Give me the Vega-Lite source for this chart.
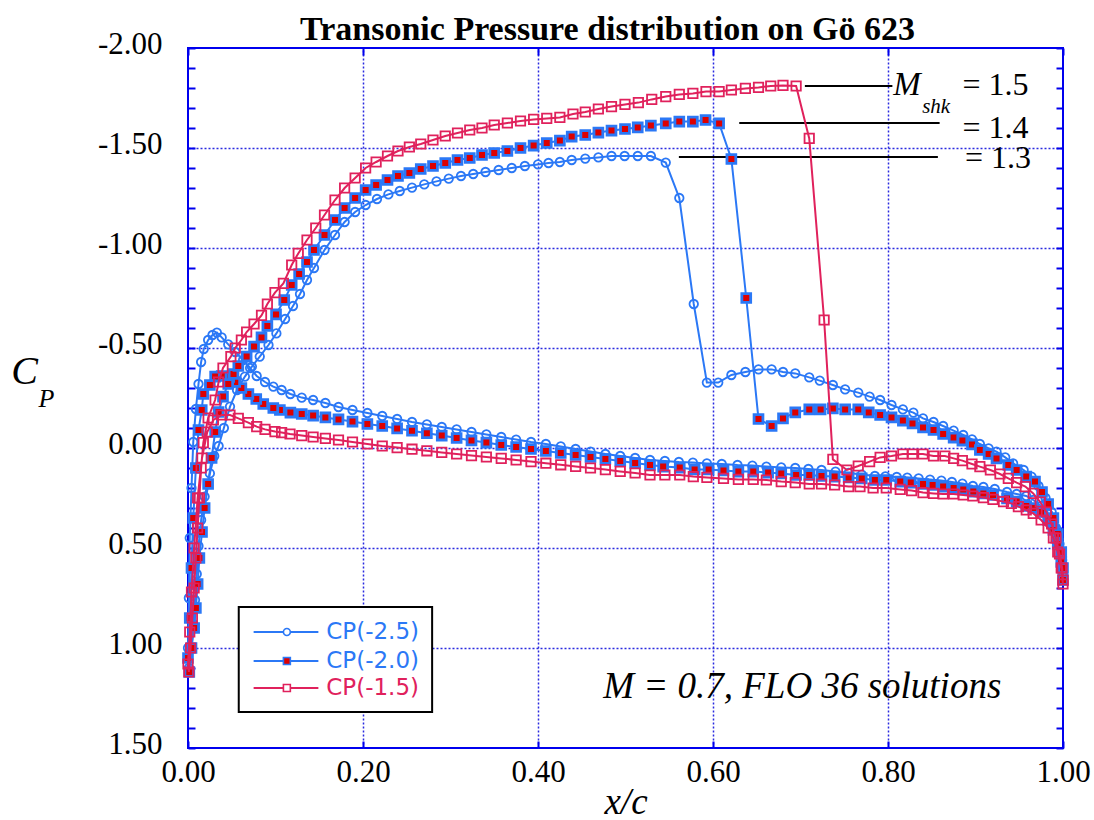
{
"$schema":"https://vega.github.io/schema/vega-lite/v6.json",
"width":875,"height":700,
"autosize":{"type":"none"},
"padding":{"left":188,"top":48,"right":31,"bottom":72},
"background":"white",
"title":{"text":"Transonic Pressure distribution on Gö 623","font":"Liberation Serif","fontSize":34,"fontWeight":"bold","color":"black","offset":8,"dx":-18,"dy":27},
"config":{"view":{"stroke":"#0000ee","strokeWidth":2},"font":"Liberation Serif"},
"resolve":{"axis":{"x":"independent","y":"independent"}},
"datasets":{
"s1":[{"x":1.0,"y":0.64},{"x":0.998,"y":0.55},{"x":0.994,"y":0.46},{"x":0.989,"y":0.39},{"x":0.983,"y":0.33},{"x":0.975,"y":0.29},{"x":0.966,"y":0.26},{"x":0.958,"y":0.24},{"x":0.947,"y":0.23},{"x":0.936,"y":0.22},{"x":0.922,"y":0.205},{"x":0.909,"y":0.195},{"x":0.897,"y":0.19},{"x":0.885,"y":0.178},{"x":0.873,"y":0.17},{"x":0.861,"y":0.163},{"x":0.848,"y":0.158},{"x":0.835,"y":0.152},{"x":0.822,"y":0.148},{"x":0.81,"y":0.145},{"x":0.797,"y":0.142},{"x":0.785,"y":0.14},{"x":0.77,"y":0.133},{"x":0.755,"y":0.125},{"x":0.74,"y":0.118},{"x":0.724,"y":0.11},{"x":0.709,"y":0.105},{"x":0.694,"y":0.1},{"x":0.678,"y":0.097},{"x":0.661,"y":0.093},{"x":0.645,"y":0.088},{"x":0.628,"y":0.085},{"x":0.61,"y":0.08},{"x":0.593,"y":0.077},{"x":0.577,"y":0.073},{"x":0.561,"y":0.07},{"x":0.545,"y":0.065},{"x":0.528,"y":0.06},{"x":0.511,"y":0.05},{"x":0.494,"y":0.04},{"x":0.477,"y":0.03},{"x":0.46,"y":0.018},{"x":0.443,"y":0.005},{"x":0.426,"y":-0.008},{"x":0.409,"y":-0.02},{"x":0.392,"y":-0.03},{"x":0.375,"y":-0.042},{"x":0.358,"y":-0.055},{"x":0.341,"y":-0.068},{"x":0.324,"y":-0.08},{"x":0.307,"y":-0.093},{"x":0.29,"y":-0.105},{"x":0.273,"y":-0.118},{"x":0.256,"y":-0.13},{"x":0.239,"y":-0.145},{"x":0.222,"y":-0.16},{"x":0.205,"y":-0.175},{"x":0.188,"y":-0.19},{"x":0.172,"y":-0.205},{"x":0.157,"y":-0.225},{"x":0.143,"y":-0.24},{"x":0.13,"y":-0.252},{"x":0.117,"y":-0.27},{"x":0.107,"y":-0.29},{"x":0.0975,"y":-0.307},{"x":0.088,"y":-0.33},{"x":0.0785,"y":-0.36},{"x":0.071,"y":-0.4},{"x":0.063,"y":-0.44},{"x":0.054,"y":-0.48},{"x":0.046,"y":-0.518},{"x":0.0385,"y":-0.553},{"x":0.033,"y":-0.577},{"x":0.028,"y":-0.565},{"x":0.023,"y":-0.54},{"x":0.018,"y":-0.495},{"x":0.015,"y":-0.43},{"x":0.012,"y":-0.32},{"x":0.009,"y":-0.195},{"x":0.006,"y":-0.03},{"x":0.004,"y":0.2},{"x":0.002,"y":0.45},{"x":0.001,"y":0.75},{"x":0.0,"y":1.0},
{"x":0.001,"y":1.1},{"x":0.003,"y":1.0},{"x":0.006,"y":0.88},{"x":0.008,"y":0.76},{"x":0.01,"y":0.63},{"x":0.012,"y":0.49},{"x":0.015,"y":0.36},{"x":0.019,"y":0.243},{"x":0.025,"y":0.127},{"x":0.03,"y":0.04},{"x":0.035,"y":-0.01},{"x":0.041,"y":-0.1},{"x":0.048,"y":-0.207},{"x":0.056,"y":-0.29},{"x":0.065,"y":-0.357},{"x":0.073,"y":-0.407},{"x":0.082,"y":-0.457},{"x":0.092,"y":-0.515},{"x":0.101,"y":-0.573},{"x":0.111,"y":-0.645},{"x":0.12,"y":-0.71},{"x":0.128,"y":-0.77},{"x":0.136,"y":-0.84},{"x":0.144,"y":-0.9},{"x":0.156,"y":-0.99},{"x":0.168,"y":-1.065},{"x":0.179,"y":-1.13},{"x":0.191,"y":-1.18},{"x":0.203,"y":-1.215},{"x":0.216,"y":-1.245},{"x":0.229,"y":-1.268},{"x":0.242,"y":-1.285},{"x":0.256,"y":-1.302},{"x":0.27,"y":-1.318},{"x":0.284,"y":-1.333},{"x":0.298,"y":-1.347},{"x":0.312,"y":-1.36},{"x":0.326,"y":-1.37},{"x":0.34,"y":-1.38},{"x":0.355,"y":-1.39},{"x":0.37,"y":-1.4},{"x":0.385,"y":-1.41},{"x":0.4,"y":-1.418},{"x":0.412,"y":-1.425},{"x":0.425,"y":-1.43},{"x":0.4385,"y":-1.44},{"x":0.454,"y":-1.447},{"x":0.469,"y":-1.453},{"x":0.484,"y":-1.46},{"x":0.499,"y":-1.46},{"x":0.514,"y":-1.46},{"x":0.529,"y":-1.46},{"x":0.546,"y":-1.427},{"x":0.5615,"y":-1.25},{"x":0.578,"y":-0.72},{"x":0.593,"y":-0.327},{"x":0.606,"y":-0.327},{"x":0.621,"y":-0.365},{"x":0.637,"y":-0.38},{"x":0.652,"y":-0.393},{"x":0.667,"y":-0.393},{"x":0.68,"y":-0.38},{"x":0.694,"y":-0.373},{"x":0.71,"y":-0.353},{"x":0.722,"y":-0.337},{"x":0.737,"y":-0.315},{"x":0.751,"y":-0.293},{"x":0.766,"y":-0.277},{"x":0.779,"y":-0.257},{"x":0.791,"y":-0.24},{"x":0.804,"y":-0.215},{"x":0.817,"y":-0.193},{"x":0.829,"y":-0.177},{"x":0.84,"y":-0.148},{"x":0.852,"y":-0.13},{"x":0.863,"y":-0.11},{"x":0.875,"y":-0.087},{"x":0.886,"y":-0.065},{"x":0.896,"y":-0.043},{"x":0.905,"y":-0.02},{"x":0.915,"y":0.002},{"x":0.924,"y":0.018},{"x":0.934,"y":0.047},{"x":0.943,"y":0.077},{"x":0.955,"y":0.11},{"x":0.964,"y":0.143},{"x":0.972,"y":0.19},{"x":0.98,"y":0.25},{"x":0.987,"y":0.32},{"x":0.992,"y":0.4},{"x":0.996,"y":0.48},{"x":0.999,"y":0.56},{"x":1.0,"y":0.62}],
"s2":[{"x":1.0,"y":0.66},{"x":0.998,"y":0.57},{"x":0.994,"y":0.48},{"x":0.989,"y":0.41},{"x":0.983,"y":0.36},{"x":0.975,"y":0.32},{"x":0.966,"y":0.3},{"x":0.958,"y":0.29},{"x":0.947,"y":0.268},{"x":0.936,"y":0.252},{"x":0.92,"y":0.235},{"x":0.909,"y":0.227},{"x":0.8975,"y":0.218},{"x":0.886,"y":0.207},{"x":0.875,"y":0.2},{"x":0.863,"y":0.193},{"x":0.851,"y":0.185},{"x":0.84,"y":0.18},{"x":0.826,"y":0.173},{"x":0.814,"y":0.168},{"x":0.798,"y":0.16},{"x":0.785,"y":0.16},{"x":0.77,"y":0.152},{"x":0.755,"y":0.147},{"x":0.739,"y":0.143},{"x":0.724,"y":0.14},{"x":0.71,"y":0.135},{"x":0.695,"y":0.135},{"x":0.678,"y":0.127},{"x":0.663,"y":0.123},{"x":0.646,"y":0.118},{"x":0.629,"y":0.118},{"x":0.612,"y":0.112},{"x":0.595,"y":0.107},{"x":0.579,"y":0.107},{"x":0.562,"y":0.098},{"x":0.543,"y":0.093},{"x":0.528,"y":0.085},{"x":0.511,"y":0.075},{"x":0.494,"y":0.065},{"x":0.477,"y":0.055},{"x":0.46,"y":0.045},{"x":0.443,"y":0.035},{"x":0.426,"y":0.025},{"x":0.409,"y":0.015},{"x":0.392,"y":0.005},{"x":0.375,"y":-0.005},{"x":0.358,"y":-0.015},{"x":0.341,"y":-0.027},{"x":0.324,"y":-0.038},{"x":0.307,"y":-0.05},{"x":0.29,"y":-0.062},{"x":0.273,"y":-0.074},{"x":0.256,"y":-0.086},{"x":0.239,"y":-0.098},{"x":0.222,"y":-0.11},{"x":0.205,"y":-0.12},{"x":0.188,"y":-0.132},{"x":0.172,"y":-0.143},{"x":0.157,"y":-0.153},{"x":0.143,"y":-0.162},{"x":0.13,"y":-0.17},{"x":0.117,"y":-0.177},{"x":0.105,"y":-0.19},{"x":0.0975,"y":-0.2},{"x":0.086,"y":-0.22},{"x":0.078,"y":-0.245},{"x":0.069,"y":-0.27},{"x":0.061,"y":-0.3},{"x":0.054,"y":-0.33},{"x":0.047,"y":-0.355},{"x":0.0385,"y":-0.36},{"x":0.031,"y":-0.357},{"x":0.025,"y":-0.315},{"x":0.0175,"y":-0.27},{"x":0.0157,"y":-0.19},{"x":0.012,"y":-0.09},{"x":0.009,"y":0.1},{"x":0.006,"y":0.35},{"x":0.004,"y":0.6},{"x":0.002,"y":0.85},{"x":0.0,"y":1.05},
{"x":0.0015,"y":1.12},{"x":0.004,"y":1.0},{"x":0.007,"y":0.9},{"x":0.009,"y":0.8},{"x":0.011,"y":0.68},{"x":0.013,"y":0.55},{"x":0.016,"y":0.42},{"x":0.019,"y":0.3},{"x":0.023,"y":0.18},{"x":0.027,"y":0.05},{"x":0.031,"y":-0.08},{"x":0.035,"y":-0.18},{"x":0.04,"y":-0.257},{"x":0.046,"y":-0.32},{"x":0.052,"y":-0.37},{"x":0.0575,"y":-0.41},{"x":0.067,"y":-0.457},{"x":0.0755,"y":-0.507},{"x":0.084,"y":-0.553},{"x":0.0907,"y":-0.61},{"x":0.1006,"y":-0.668},{"x":0.11,"y":-0.74},{"x":0.1185,"y":-0.815},{"x":0.127,"y":-0.87},{"x":0.136,"y":-0.93},{"x":0.144,"y":-0.99},{"x":0.156,"y":-1.065},{"x":0.168,"y":-1.14},{"x":0.179,"y":-1.2},{"x":0.191,"y":-1.25},{"x":0.203,"y":-1.29},{"x":0.215,"y":-1.315},{"x":0.228,"y":-1.34},{"x":0.24,"y":-1.36},{"x":0.253,"y":-1.375},{"x":0.266,"y":-1.395},{"x":0.28,"y":-1.41},{"x":0.294,"y":-1.425},{"x":0.308,"y":-1.44},{"x":0.322,"y":-1.45},{"x":0.336,"y":-1.465},{"x":0.35,"y":-1.475},{"x":0.365,"y":-1.485},{"x":0.38,"y":-1.5},{"x":0.395,"y":-1.512},{"x":0.41,"y":-1.525},{"x":0.425,"y":-1.537},{"x":0.4385,"y":-1.557},{"x":0.454,"y":-1.565},{"x":0.469,"y":-1.577},{"x":0.484,"y":-1.587},{"x":0.4994,"y":-1.595},{"x":0.514,"y":-1.603},{"x":0.529,"y":-1.612},{"x":0.546,"y":-1.623},{"x":0.5615,"y":-1.632},{"x":0.577,"y":-1.632},{"x":0.5915,"y":-1.64},{"x":0.607,"y":-1.623},{"x":0.621,"y":-1.445},{"x":0.638,"y":-0.75},{"x":0.652,"y":-0.145},{"x":0.667,"y":-0.11},{"x":0.68,"y":-0.148},{"x":0.694,"y":-0.178},{"x":0.71,"y":-0.193},{"x":0.723,"y":-0.193},{"x":0.737,"y":-0.198},{"x":0.751,"y":-0.193},{"x":0.766,"y":-0.193},{"x":0.778,"y":-0.178},{"x":0.791,"y":-0.165},{"x":0.804,"y":-0.153},{"x":0.817,"y":-0.137},{"x":0.828,"y":-0.123},{"x":0.84,"y":-0.103},{"x":0.852,"y":-0.09},{"x":0.863,"y":-0.07},{"x":0.875,"y":-0.052},{"x":0.885,"y":-0.037},{"x":0.896,"y":-0.018},{"x":0.905,"y":0.01},{"x":0.915,"y":0.03},{"x":0.924,"y":0.052},{"x":0.9375,"y":0.085},{"x":0.947,"y":0.11},{"x":0.958,"y":0.143},{"x":0.968,"y":0.168},{"x":0.976,"y":0.22},{"x":0.983,"y":0.28},{"x":0.989,"y":0.35},{"x":0.994,"y":0.43},{"x":0.998,"y":0.52},{"x":1.0,"y":0.6}],
"s3":[{"x":1.0,"y":0.68},{"x":0.998,"y":0.6},{"x":0.994,"y":0.52},{"x":0.989,"y":0.45},{"x":0.983,"y":0.4},{"x":0.975,"y":0.36},{"x":0.966,"y":0.327},{"x":0.958,"y":0.31},{"x":0.949,"y":0.293},{"x":0.941,"y":0.277},{"x":0.932,"y":0.268},{"x":0.92,"y":0.257},{"x":0.909,"y":0.248},{"x":0.897,"y":0.24},{"x":0.886,"y":0.235},{"x":0.875,"y":0.23},{"x":0.863,"y":0.23},{"x":0.852,"y":0.227},{"x":0.84,"y":0.223},{"x":0.827,"y":0.213},{"x":0.814,"y":0.207},{"x":0.798,"y":0.2},{"x":0.783,"y":0.2},{"x":0.768,"y":0.193},{"x":0.755,"y":0.193},{"x":0.739,"y":0.185},{"x":0.724,"y":0.18},{"x":0.71,"y":0.18},{"x":0.694,"y":0.173},{"x":0.678,"y":0.168},{"x":0.661,"y":0.16},{"x":0.646,"y":0.157},{"x":0.629,"y":0.157},{"x":0.612,"y":0.152},{"x":0.593,"y":0.147},{"x":0.5775,"y":0.143},{"x":0.562,"y":0.135},{"x":0.545,"y":0.135},{"x":0.528,"y":0.135},{"x":0.511,"y":0.125},{"x":0.494,"y":0.117},{"x":0.477,"y":0.108},{"x":0.46,"y":0.1},{"x":0.443,"y":0.092},{"x":0.426,"y":0.084},{"x":0.409,"y":0.076},{"x":0.392,"y":0.068},{"x":0.375,"y":0.06},{"x":0.358,"y":0.052},{"x":0.341,"y":0.045},{"x":0.324,"y":0.038},{"x":0.307,"y":0.03},{"x":0.29,"y":0.022},{"x":0.273,"y":0.014},{"x":0.256,"y":0.006},{"x":0.239,"y":-0.002},{"x":0.222,"y":-0.01},{"x":0.205,"y":-0.02},{"x":0.188,"y":-0.03},{"x":0.172,"y":-0.04},{"x":0.157,"y":-0.048},{"x":0.143,"y":-0.055},{"x":0.13,"y":-0.062},{"x":0.1166,"y":-0.07},{"x":0.107,"y":-0.077},{"x":0.0994,"y":-0.082},{"x":0.088,"y":-0.093},{"x":0.0785,"y":-0.107},{"x":0.069,"y":-0.127},{"x":0.0575,"y":-0.148},{"x":0.048,"y":-0.165},{"x":0.0385,"y":-0.165},{"x":0.029,"y":-0.14},{"x":0.022,"y":-0.08},{"x":0.016,"y":0.05},{"x":0.011,"y":0.25},{"x":0.007,"y":0.5},{"x":0.004,"y":0.72},{"x":0.002,"y":0.92},{"x":0.0,"y":1.08},
{"x":0.001,"y":1.12},{"x":0.003,"y":1.0},{"x":0.005,"y":0.85},{"x":0.007,"y":0.7},{"x":0.009,"y":0.55},{"x":0.011,"y":0.4},{"x":0.013,"y":0.25},{"x":0.015,"y":0.1},{"x":0.0175,"y":-0.027},{"x":0.023,"y":-0.15},{"x":0.031,"y":-0.24},{"x":0.035,"y":-0.33},{"x":0.04,"y":-0.4},{"x":0.049,"y":-0.457},{"x":0.054,"y":-0.5},{"x":0.061,"y":-0.54},{"x":0.067,"y":-0.58},{"x":0.0755,"y":-0.62},{"x":0.084,"y":-0.663},{"x":0.0907,"y":-0.72},{"x":0.0994,"y":-0.777},{"x":0.109,"y":-0.823},{"x":0.1185,"y":-0.915},{"x":0.126,"y":-0.973},{"x":0.136,"y":-1.04},{"x":0.146,"y":-1.1},{"x":0.156,"y":-1.165},{"x":0.168,"y":-1.24},{"x":0.179,"y":-1.3},{"x":0.191,"y":-1.35},{"x":0.203,"y":-1.4},{"x":0.215,"y":-1.43},{"x":0.228,"y":-1.46},{"x":0.24,"y":-1.485},{"x":0.253,"y":-1.505},{"x":0.266,"y":-1.52},{"x":0.28,"y":-1.54},{"x":0.294,"y":-1.56},{"x":0.308,"y":-1.575},{"x":0.322,"y":-1.59},{"x":0.336,"y":-1.6},{"x":0.35,"y":-1.615},{"x":0.365,"y":-1.625},{"x":0.38,"y":-1.635},{"x":0.395,"y":-1.643},{"x":0.41,"y":-1.648},{"x":0.425,"y":-1.653},{"x":0.44,"y":-1.67},{"x":0.454,"y":-1.68},{"x":0.469,"y":-1.695},{"x":0.484,"y":-1.707},{"x":0.4994,"y":-1.718},{"x":0.5147,"y":-1.727},{"x":0.53,"y":-1.743},{"x":0.546,"y":-1.757},{"x":0.5615,"y":-1.768},{"x":0.577,"y":-1.773},{"x":0.592,"y":-1.782},{"x":0.607,"y":-1.782},{"x":0.621,"y":-1.79},{"x":0.637,"y":-1.798},{"x":0.652,"y":-1.803},{"x":0.666,"y":-1.81},{"x":0.68,"y":-1.813},{"x":0.695,"y":-1.81},{"x":0.71,"y":-1.548},{"x":0.727,"y":-0.64},{"x":0.737,"y":0.057},{"x":0.753,"y":0.11},{"x":0.766,"y":0.09},{"x":0.779,"y":0.068},{"x":0.791,"y":0.047},{"x":0.804,"y":0.04},{"x":0.817,"y":0.03},{"x":0.828,"y":0.03},{"x":0.84,"y":0.03},{"x":0.852,"y":0.04},{"x":0.865,"y":0.04},{"x":0.875,"y":0.052},{"x":0.885,"y":0.063},{"x":0.896,"y":0.08},{"x":0.905,"y":0.093},{"x":0.917,"y":0.11},{"x":0.928,"y":0.13},{"x":0.9375,"y":0.152},{"x":0.947,"y":0.173},{"x":0.957,"y":0.193},{"x":0.966,"y":0.227},{"x":0.974,"y":0.27},{"x":0.981,"y":0.32},{"x":0.987,"y":0.38},{"x":0.992,"y":0.45},{"x":0.996,"y":0.53},{"x":0.999,"y":0.6},{"x":1.0,"y":0.66}],
"shk":[{"x":0.705,"x2":0.805,"y":-1.81},{"x":0.63,"x2":0.859,"y":-1.625},{"x":0.561,"x2":0.857,"y":-1.455}],
"shklab":[{"t":"= 1.5","x":0.885,"y":-1.765},{"t":"= 1.4","x":0.885,"y":-1.55},{"t":"= 1.3","x":0.888,"y":-1.4}],
"leg":[{"label":"CP(-2.5)","y":0.92},{"label":"CP(-2.0)","y":1.065},{"label":"CP(-1.5)","y":1.2}]
},
"layer":[
{"data":{"name":"shk"},"mark":{"type":"rule","color":"black","strokeWidth":2},
 "encoding":{
  "x":{"field":"x","type":"quantitative","scale":{"domain":[0,1],"nice":false,"zero":false},
   "axis":{"orient":"bottom","values":[0,0.2,0.4,0.6,0.8,1],"format":".2f","labelFont":"Liberation Serif","labelFontSize":31,"labelColor":"black","labelPadding":16,"labelFlush":false,"labelOverlap":false,"tickSize":-7,"tickColor":"#0000ee","tickWidth":2,"domain":false,"grid":true,"gridColor":"#2a2ae0","gridDash":[2,2],"gridWidth":1.5,"gridOpacity":{"condition":{"test":"datum.value>0.01 && datum.value<0.99","value":1},"value":0},"title":"x/c","titleFont":"Liberation Serif","titleFontSize":37,"titleFontStyle":"italic","titleFontWeight":"normal","titleColor":"black","titlePadding":-3}},
  "x2":{"field":"x2"},
  "y":{"field":"y","type":"quantitative","scale":{"domain":[-2,1.5],"nice":false,"zero":false,"reverse":true},
   "axis":{"orient":"left","values":[-2,-1.9,-1.8,-1.7,-1.6,-1.5,-1.4,-1.3,-1.2,-1.1,-1,-0.9,-0.8,-0.7,-0.6,-0.5,-0.4,-0.3,-0.2,-0.1,0,0.1,0.2,0.3,0.4,0.5,0.6,0.7,0.8,0.9,1,1.1,1.2,1.3,1.4,1.5],
    "labelExpr":"abs(datum.value*2-round(datum.value*2))<0.001 ? (datum.value<0?'-':'')+format(abs(datum.value),'.2f') : ''",
    "labelFont":"Liberation Serif","labelFontSize":31,"labelColor":"black","labelPadding":33,"labelFlush":false,"labelOverlap":false,"labelOffset":-4,
    "tickSize":-7,"tickColor":"#0000ee","tickWidth":2,"domain":false,"grid":true,"gridColor":"#2a2ae0","gridDash":[2,2],"gridWidth":1.5,
    "gridOpacity":{"condition":{"test":"abs(datum.value*2-round(datum.value*2))<0.001 && datum.value>-1.99 && datum.value<1.49","value":1},"value":0},"title":null}}
 }},
{"data":{"name":"s1"},"mark":{"type":"line","color":"#2b78f6","strokeWidth":2},
 "encoding":{
  "x":{"field":"x","type":"quantitative","scale":{"domain":[0,1],"nice":false,"zero":false},
   "axis":{"orient":"top","values":[0,0.2,0.4,0.6,0.8,1],"labels":false,"tickSize":-7,"tickColor":"#0000ee","tickWidth":2,"domain":false,"grid":false,"title":null}},
  "y":{"field":"y","type":"quantitative","scale":{"domain":[-2,1.5],"nice":false,"zero":false,"reverse":true},
   "axis":{"orient":"right","values":[-2,-1.9,-1.8,-1.7,-1.6,-1.5,-1.4,-1.3,-1.2,-1.1,-1,-0.9,-0.8,-0.7,-0.6,-0.5,-0.4,-0.3,-0.2,-0.1,0,0.1,0.2,0.3,0.4,0.5,0.6,0.7,0.8,0.9,1,1.1,1.2,1.3,1.4,1.5],"labels":false,"tickSize":-7,"tickColor":"#0000ee","tickWidth":2,"domain":false,"grid":false,"title":null}},
  "order":{"value":null}
 }},
{"data":{"name":"s1"},"mark":{"type":"point","shape":"circle","filled":false,"color":"#2b78f6","strokeWidth":1.8,"size":72,"opacity":1},
 "encoding":{"x":{"field":"x","type":"quantitative","scale":{"domain":[0,1],"nice":false,"zero":false},"axis":null},"y":{"field":"y","type":"quantitative","scale":{"domain":[-2,1.5],"nice":false,"zero":false,"reverse":true},"axis":null}}},
{"data":{"name":"s2"},"mark":{"type":"line","color":"#2b78f6","strokeWidth":2},
 "encoding":{"x":{"field":"x","type":"quantitative","scale":{"domain":[0,1],"nice":false,"zero":false},"axis":null},"y":{"field":"y","type":"quantitative","scale":{"domain":[-2,1.5],"nice":false,"zero":false,"reverse":true},"axis":null},"order":{"value":null}}},
{"data":{"name":"s2"},"mark":{"type":"point","shape":"square","filled":true,"fill":"#dd0000","stroke":"#2b78f6","strokeWidth":2.8,"size":78,"opacity":1,"fillOpacity":1},
 "encoding":{"x":{"field":"x","type":"quantitative","scale":{"domain":[0,1],"nice":false,"zero":false},"axis":null},"y":{"field":"y","type":"quantitative","scale":{"domain":[-2,1.5],"nice":false,"zero":false,"reverse":true},"axis":null}}},
{"data":{"name":"s3"},"mark":{"type":"line","color":"#e0215c","strokeWidth":2},
 "encoding":{"x":{"field":"x","type":"quantitative","scale":{"domain":[0,1],"nice":false,"zero":false},"axis":null},"y":{"field":"y","type":"quantitative","scale":{"domain":[-2,1.5],"nice":false,"zero":false,"reverse":true},"axis":null},"order":{"value":null}}},
{"data":{"name":"s3"},"mark":{"type":"point","shape":"square","filled":false,"color":"#e0215c","strokeWidth":1.8,"size":88,"opacity":1},
 "encoding":{"x":{"field":"x","type":"quantitative","scale":{"domain":[0,1],"nice":false,"zero":false},"axis":null},"y":{"field":"y","type":"quantitative","scale":{"domain":[-2,1.5],"nice":false,"zero":false,"reverse":true},"axis":null}}},
{"data":{"values":[{}]},"mark":{"type":"rect","fill":"white","stroke":"black","strokeWidth":2},
 "encoding":{"x":{"datum":0.058,"type":"quantitative","axis":null},"x2":{"datum":0.279},"y":{"datum":0.795,"type":"quantitative","axis":null},"y2":{"datum":1.32}}},
{"data":{"name":"leg"},"mark":{"type":"rule","strokeWidth":2},
 "encoding":{"x":{"datum":0.075,"type":"quantitative","axis":null},"x2":{"datum":0.149},"y":{"field":"y","type":"quantitative","axis":null},
  "color":{"field":"label","type":"nominal","scale":{"domain":["CP(-2.5)","CP(-2.0)","CP(-1.5)"],"range":["#2b78f6","#2b78f6","#e0215c"]},"legend":null}}},
{"data":{"name":"leg"},"mark":{"type":"point","strokeWidth":1.6,"size":48,"opacity":1,"fillOpacity":1},
 "encoding":{"x":{"datum":0.113,"type":"quantitative","axis":null},"y":{"field":"y","type":"quantitative","axis":null},
  "shape":{"field":"label","type":"nominal","scale":{"domain":["CP(-2.5)","CP(-2.0)","CP(-1.5)"],"range":["circle","square","square"]},"legend":null},
  "stroke":{"field":"label","type":"nominal","scale":{"domain":["CP(-2.5)","CP(-2.0)","CP(-1.5)"],"range":["#2b78f6","#2b78f6","#e0215c"]},"legend":null},
  "fill":{"field":"label","type":"nominal","scale":{"domain":["CP(-2.5)","CP(-2.0)","CP(-1.5)"],"range":["white","#dd0000","white"]},"legend":null}}},
{"data":{"name":"leg"},"mark":{"type":"text","align":"left","baseline":"middle","font":"DejaVu Sans","fontSize":23},
 "encoding":{"x":{"datum":0.158,"type":"quantitative","axis":null},"y":{"field":"y","type":"quantitative","axis":null},"text":{"field":"label"},
  "color":{"field":"label","type":"nominal","legend":null}}},
{"data":{"name":"shklab"},"mark":{"type":"text","align":"left","baseline":"alphabetic","font":"Liberation Serif","fontSize":32,"color":"black"},
 "encoding":{"x":{"field":"x","type":"quantitative","axis":null},"y":{"field":"y","type":"quantitative","axis":null},"text":{"field":"t"}}},
{"data":{"values":[{"t":"M","x":0.806,"y":-1.765}]},"mark":{"type":"text","align":"left","baseline":"alphabetic","font":"Liberation Serif","fontStyle":"italic","fontSize":33,"color":"black"},
 "encoding":{"x":{"field":"x","type":"quantitative","axis":null},"y":{"field":"y","type":"quantitative","axis":null},"text":{"field":"t"}}},
{"data":{"values":[{"t":"shk","x":0.839,"y":-1.675}]},"mark":{"type":"text","align":"left","baseline":"alphabetic","font":"Liberation Serif","fontStyle":"italic","fontSize":21,"color":"black"},
 "encoding":{"x":{"field":"x","type":"quantitative","axis":null},"y":{"field":"y","type":"quantitative","axis":null},"text":{"field":"t"}}},
{"data":{"values":[{"t":"M = 0.7, FLO 36 solutions","x":0.702,"y":1.25}]},"mark":{"type":"text","align":"center","baseline":"alphabetic","font":"Liberation Serif","fontStyle":"italic","fontSize":37,"color":"black"},
 "encoding":{"x":{"field":"x","type":"quantitative","axis":null},"y":{"field":"y","type":"quantitative","axis":null},"text":{"field":"t"}}},
{"data":{"values":[{"t":"C","x":-0.202,"y":-0.32}]},"mark":{"type":"text","align":"left","baseline":"alphabetic","font":"Liberation Serif","fontStyle":"italic","fontSize":40,"color":"black"},
 "encoding":{"x":{"field":"x","type":"quantitative","axis":null},"y":{"field":"y","type":"quantitative","axis":null},"text":{"field":"t"}}},
{"data":{"values":[{"t":"P","x":-0.171,"y":-0.205}]},"mark":{"type":"text","align":"left","baseline":"alphabetic","font":"Liberation Serif","fontStyle":"italic","fontSize":26,"color":"black"},
 "encoding":{"x":{"field":"x","type":"quantitative","axis":null},"y":{"field":"y","type":"quantitative","axis":null},"text":{"field":"t"}}}
]
}
